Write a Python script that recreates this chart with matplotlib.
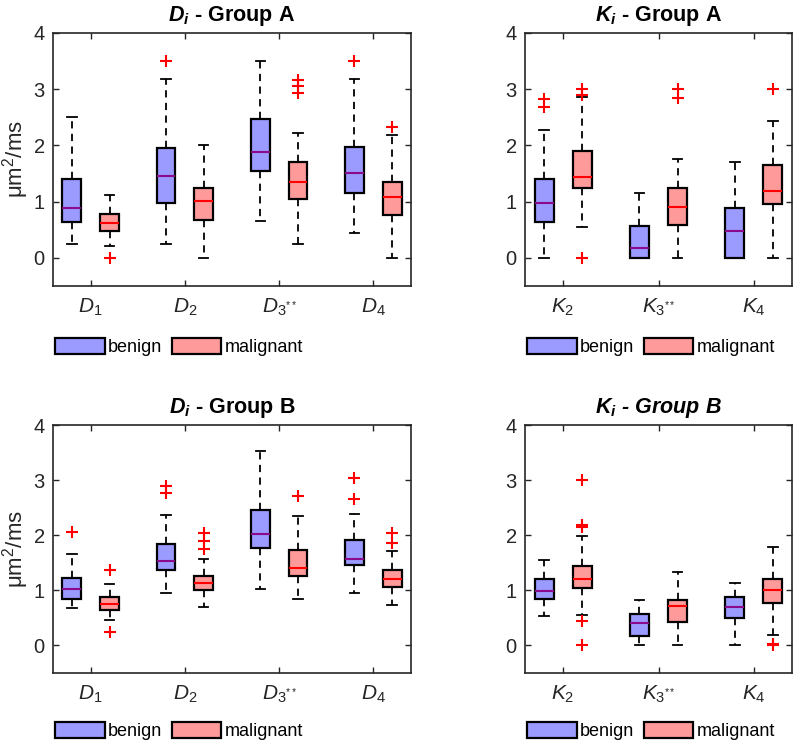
import numpy as np
import matplotlib
matplotlib.use('Agg')
from matplotlib import pyplot as plt
from matplotlib.patches import Patch

plt.rcParams.update({
  'font.family': ['Liberation Sans', 'DejaVu Sans'],
  'mathtext.fontset': 'custom',
  'mathtext.rm': 'Liberation Sans',
  'mathtext.it': 'Liberation Sans:italic',
  'mathtext.bf': 'Liberation Sans:bold',
  'mathtext.bfit': 'Liberation Sans:italic:bold',
})

#
# Box statistics: [whisker low, q1, median, q3, whisker high]
#

d_labels = [r'$D_1$', r'$D_2$', r'$D_{3^{**}}$', r'$D_4$']
k_labels = [r'$K_2$', r'$K_{3^{**}}$', r'$K_4$']
groups = ['benign', 'malignant']

dA_ben = [[0.24, 0.63, 0.89, 1.40, 2.51],
          [0.24, 0.98, 1.45, 1.96, 3.18],
          [0.65, 1.54, 1.89, 2.47, 3.50],
          [0.45, 1.16, 1.51, 1.98, 3.19]]
dA_ben_out = [[], [3.50], [], [3.50]]
dA_mal = [[0.22, 0.47, 0.62, 0.78, 1.11],
          [0.00, 0.68, 1.01, 1.25, 2.00],
          [0.25, 1.04, 1.35, 1.70, 2.23],
          [0.00, 0.76, 1.09, 1.35, 2.19]]
dA_mal_out = [[0.0], [], [3.16, 3.06, 2.94], [2.32]]

kA_ben = [[0.00, 0.63, 0.97, 1.41, 2.27],
          [0.00, 0.00, 0.18, 0.56, 1.16],
          [0.00, 0.00, 0.47, 0.89, 1.71]]
kA_ben_out = [[2.82, 2.69], [], []]
kA_mal = [[0.55, 1.24, 1.44, 1.90, 2.87],
          [0.00, 0.58, 0.91, 1.24, 1.76],
          [0.00, 0.96, 1.19, 1.66, 2.44]]
kA_mal_out = [[3.00, 2.90, 0.0], [3.00, 2.84], [3.01]]

dB_ben = [[0.68, 0.85, 1.03, 1.23, 1.66],
          [0.96, 1.37, 1.54, 1.84, 2.37],
          [1.03, 1.76, 2.02, 2.46, 3.52],
          [0.96, 1.46, 1.57, 1.92, 2.38]]
dB_ben_out = [[2.05], [2.90, 2.76], [], [3.03, 2.66]]
dB_mal = [[0.465, 0.64, 0.755, 0.87, 1.12],
          [0.695, 1.00, 1.14, 1.26, 1.56],
          [0.85, 1.26, 1.41, 1.73, 2.34],
          [0.74, 1.06, 1.20, 1.36, 1.72]]
dB_mal_out = [[1.37, 0.25], [2.04, 1.90, 1.75], [2.72], [2.04, 1.86]]

kB_ben = [[0.54, 0.84, 0.99, 1.21, 1.55],
          [0.00, 0.18, 0.41, 0.57, 0.83],
          [0.00, 0.50, 0.70, 0.87, 1.13]]
kB_ben_out = [[], [], []]
kB_mal = [[0.56, 1.04, 1.21, 1.44, 1.98],
          [0.00, 0.42, 0.71, 0.83, 1.34],
          [0.19, 0.77, 1.00, 1.21, 1.79]]
kB_mal_out = [[3.00, 2.18, 2.15, 0.45, 0.0], [], [0.03, 0.0]]

BEN_FACE = '#9a9aff'
MAL_FACE = '#ff9a9a'
BEN_MED = '#8b0a8b'
MAL_MED = '#ff0000'
DARK = '#262626'

def to_stats(rows, outs):
  return [dict(whislo = r[0], q1 = r[1], med = r[2], q3 = r[3], whishi = r[4], fliers = o)
          for r, o in zip(rows, outs)]

def draw_panel(ax, labels, ben, ben_out, mal, mal_out, title, title_style = 'normal', ylabel = True):
  pos = np.arange(1, len(labels) + 1)

  for rows, outs, shift, face, med in [(ben, ben_out, -0.2, BEN_FACE, BEN_MED),
                                       (mal, mal_out, 0.2, MAL_FACE, MAL_MED)]:
    ax.bxp(to_stats(rows, outs), positions = pos + shift, widths = 0.2, capwidths = 0.1,
           patch_artist = True, manage_ticks = False,
           boxprops = dict(facecolor = face, edgecolor = 'k', linewidth = 1.6),
           medianprops = dict(color = med, linewidth = 1.5),
           whiskerprops = dict(color = 'k', linestyle = (0, (4, 3)), linewidth = 1.3),
           capprops = dict(color = 'k', linewidth = 1.3),
           flierprops = dict(marker = '+', markeredgecolor = 'red', markersize = 9,
                             markeredgewidth = 1.5, linestyle = 'none'))

  ax.set_xlim(0.6, len(labels) + 0.4)
  ax.set_ylim(-0.5, 4)
  ax.set_xticks(pos, labels)
  ax.set_yticks(range(5))
  ax.tick_params(direction = 'in', top = True, right = True, length = 4, width = 1, colors = DARK)
  ax.tick_params(axis = 'x', labelsize = 15, pad = 8)
  ax.tick_params(axis = 'y', labelsize = 14.5, pad = 6)
  for s in ax.spines.values():
    s.set_color(DARK)
    s.set_linewidth(1.2)

  ax.set_title(title, fontsize = 15.5, fontweight = 'bold', fontstyle = title_style, pad = 9)
  if ylabel:
    ax.set_ylabel('μm$^2$/ms', fontsize = 16, color = DARK, labelpad = 2)

fig = plt.figure(figsize = (7.94, 7.46), dpi = 100)

W, H = 794, 746
def axes_px(x0, y0, x1, y1):
  return fig.add_axes([x0 / W, 1 - y1 / H, (x1 - x0) / W, (y1 - y0) / H])

ax1 = axes_px(53, 33, 411, 286)
ax2 = axes_px(525, 33, 792, 286)
ax3 = axes_px(53, 425, 411, 673)
ax4 = axes_px(525, 425, 792, 673)

draw_panel(ax1, d_labels, dA_ben, dA_ben_out, dA_mal, dA_mal_out, r'$\mathbfit{D}_\mathbfit{i}$ - Group A')
draw_panel(ax2, k_labels, kA_ben, kA_ben_out, kA_mal, kA_mal_out, r'$\mathbfit{K}_\mathbfit{i}$ - Group A', ylabel = False)
draw_panel(ax3, d_labels, dB_ben, dB_ben_out, dB_mal, dB_mal_out, r'$\mathbfit{D}_\mathbfit{i}$ - Group B')
draw_panel(ax4, k_labels, kB_ben, kB_ben_out, kB_mal, kB_mal_out, r'$\mathbfit{K}_\mathbfit{i}$ - Group B',
           title_style = 'italic', ylabel = False)

handles = [Patch(facecolor = BEN_FACE, edgecolor = 'k', linewidth = 1.6),
           Patch(facecolor = MAL_FACE, edgecolor = 'k', linewidth = 1.6)]

for x, y in [(55, 347), (527, 347), (55, 731), (527, 731)]:
  fig.legend(handles, groups, loc = 'center left', bbox_to_anchor = (x / W, 1 - y / H),
             ncol = 2, frameon = False, fontsize = 13, handlelength = 2.75, handleheight = 0.95,
             handletextpad = 0.2, columnspacing = 0.5, borderpad = 0, borderaxespad = 0)

fig.savefig('out.png', dpi = 100)
